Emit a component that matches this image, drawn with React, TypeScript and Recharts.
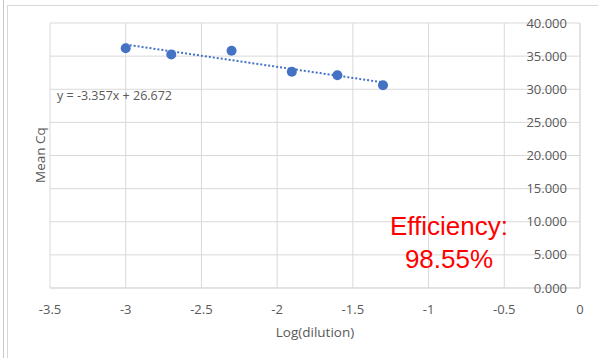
import React from "react"
import {
  ScatterChart,
  Scatter,
  XAxis,
  YAxis,
  CartesianGrid,
  ReferenceLine,
} from "recharts"

// log10 of dilution vs mean Cq
const logDilution = [-3, -2.699, -2.301, -1.903, -1.602, -1.301]
const meanCq = [36.2, 35.25, 35.8, 32.65, 32.1, 30.6]

const xTicks = [-3.5, -3, -2.5, -2, -1.5, -1, -0.5, 0]
const yTicks = [0, 5, 10, 15, 20, 25, 30, 35, 40]

// linear trendline as shown on the chart
const slope = -3.357
const intercept = 26.672
const equationText = "y = -3.357x + 26.672"
const efficiencyLines = ["Efficiency:", "98.55%"]

const blue = "#4472C4"
const gridColor = "#d9d9d9"
const textColor = "#595959"
const font = "'Open Sans', sans-serif"

const points = logDilution.map((x, i) => ({ x, y: meanCq[i] }))
const trendStart = logDilution[0]
const trendEnd = logDilution[logDilution.length - 1]

const Dot = (props: any) => {
  const { cx, cy } = props
  return <circle cx={cx} cy={cy} r={5} fill={blue} />
}

export default function App() {
  return (
    <div
      style={{
        position: "absolute",
        left: 0,
        top: 0,
        width: 598,
        height: 358,
        background: "#fff",
        overflow: "hidden",
        fontFamily: font,
      }}
    >
      {/* sheet frame */}
      <div style={{ position: "absolute", left: 3, top: 0, width: 1, height: 358, background: "#c8c8c8" }} />
      <div style={{ position: "absolute", left: 7, top: 5, width: 1, height: 353, background: gridColor }} />
      <div style={{ position: "absolute", left: 7, top: 5, width: 591, height: 1, background: gridColor }} />

      <ScatterChart
        width={598}
        height={358}
        margin={{ top: 23, right: 18, bottom: 0, left: 50 }}
        style={{ position: "absolute", left: 0, top: 0 }}
      >
        <CartesianGrid stroke={gridColor} />
        <XAxis
          type="number"
          dataKey="x"
          domain={[-3.5, 0]}
          ticks={xTicks}
          allowDataOverflow
          height={70}
          stroke={gridColor}
          tickLine={false}
          tickSize={0}
          tickMargin={17}
          tick={{ fill: textColor, fontSize: 13, fontFamily: font }}
          label={{
            value: "Log(dilution)",
            position: "insideBottom",
            offset: 21,
            fill: textColor,
            fontSize: 13.5,
            fontFamily: font,
          }}
        />
        <YAxis
          type="number"
          dataKey="y"
          orientation="right"
          mirror
          domain={[0, 40]}
          ticks={yTicks}
          width={60}
          stroke={gridColor}
          tickLine={false}
          tickSize={0}
          tickMargin={13}
          tickFormatter={(v: number) => v.toFixed(3)}
          tick={{ fill: textColor, fontSize: 13, fontFamily: font }}
        />
        <ReferenceLine
          segment={[
            { x: trendStart, y: slope * trendStart + intercept },
            { x: trendEnd, y: slope * trendEnd + intercept },
          ]}
          stroke={blue}
          strokeWidth={2}
          strokeDasharray="2 2"
          ifOverflow="visible"
        />
        <Scatter data={points} shape={<Dot />} isAnimationActive={false} />
      </ScatterChart>

      <div
        style={{
          position: "absolute",
          left: 40,
          top: 155,
          transform: "translate(-50%, -50%) rotate(-90deg)",
          whiteSpace: "nowrap",
          color: textColor,
          fontSize: 13.5,
        }}
      >
        Mean Cq
      </div>

      <div
        style={{
          position: "absolute",
          left: 57,
          top: 87,
          lineHeight: "18px",
          whiteSpace: "nowrap",
          color: textColor,
          fontSize: 12.5,
        }}
      >
        {equationText}
      </div>

      <div
        style={{
          position: "absolute",
          left: 449,
          top: 210,
          transform: "translateX(-50%)",
          textAlign: "center",
          whiteSpace: "nowrap",
          color: "#ff0000",
          fontFamily: "'Liberation Sans', Arial, sans-serif",
          fontSize: 26,
          lineHeight: "33px",
        }}
      >
        {efficiencyLines.map((l) => (
          <div key={l}>{l}</div>
        ))}
      </div>
    </div>
  )
}
